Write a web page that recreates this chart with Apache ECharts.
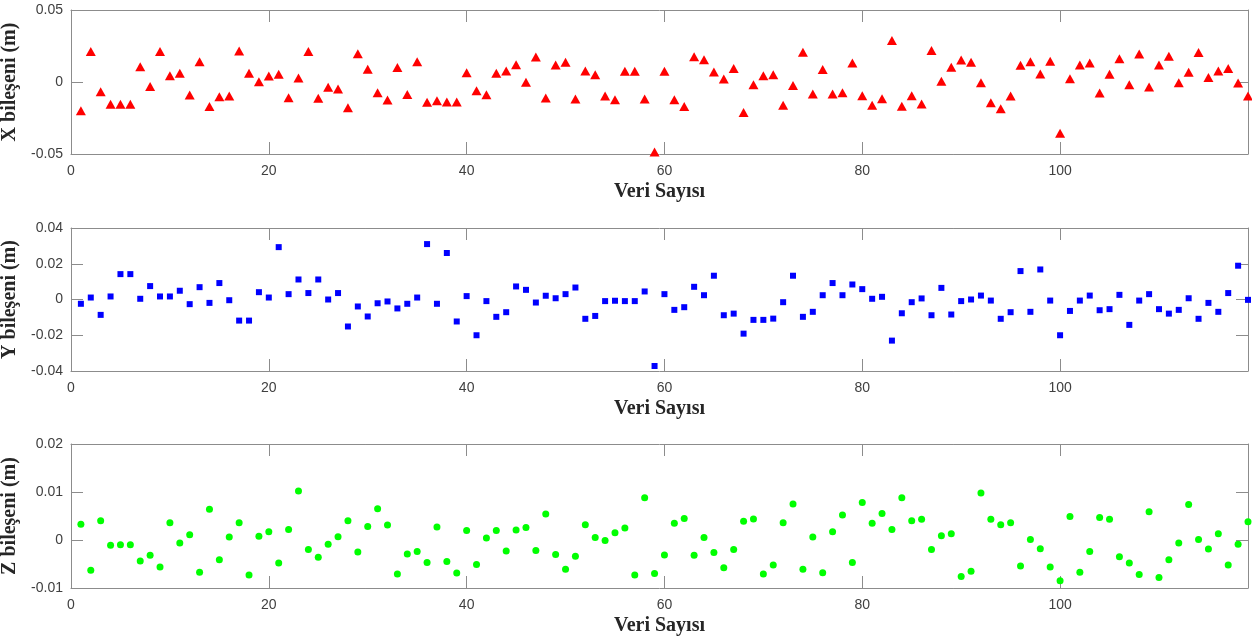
<!DOCTYPE html>
<html>
<head>
<meta charset="utf-8">
<script src="https://cdn.jsdelivr.net/npm/echarts@6/dist/echarts.min.js"></script>
<style>
  html, body { margin: 0; padding: 0; background: #fff; }
  #chart { width: 1252px; height: 643px; }
</style>
</head>
<body>
<div id="chart"></div>
<script>
// ölçüm farkları, 1..119 numaralı veri
const xValues = [
  -0.0199, 0.0211, -0.0067, -0.0155, -0.0155, -0.0155, 0.0106, -0.0032, 0.0211, 0.0044,
  0.0060, -0.0090, 0.0141, -0.0171, -0.0102, -0.0097, 0.0215, 0.0060, 0.0002, 0.0042,
  0.0053, -0.0109, 0.0028, 0.0211, -0.0113, -0.0037, -0.0049, -0.0178, 0.0197, 0.0088,
  -0.0074, -0.0125, 0.0100, -0.0086, 0.0141, -0.0141, -0.0130, -0.0139, -0.0139, 0.0065,
  -0.0060, -0.0088, 0.0060, 0.0076, 0.0120, -0.0002, 0.0174, -0.0111, 0.0118, 0.0137,
  -0.0118, 0.0076, 0.0051, -0.0097, -0.0123, 0.0074, 0.0074, -0.0118, -0.0486, 0.0074,
  -0.0123, -0.0171, 0.0176, 0.0155, 0.0069, 0.0021, 0.0093, -0.0211, -0.0019, 0.0044,
  0.0051, -0.0162, -0.0025, 0.0206, -0.0083, 0.0086, -0.0083, -0.0074, 0.0132, -0.0095,
  -0.0162, -0.0116, 0.0289, -0.0169, -0.0095, -0.0153, 0.0218, 0.0005, 0.0102, 0.0153,
  0.0137, -0.0005, -0.0144, -0.0185, -0.0097, 0.0116, 0.0141, 0.0056, 0.0144, -0.0356,
  0.0023, 0.0118, 0.0132, -0.0076, 0.0053, 0.0162, -0.0019, 0.0194, -0.0035, 0.0118,
  0.0178, -0.0005, 0.0067, 0.0204, 0.0032, 0.0076, 0.0093, -0.0007, -0.0097
];

const yValues = [
  -0.0024, 0.0011, -0.0086, 0.0017, 0.0142, 0.0142, 0.0004, 0.0075, 0.0017, 0.0017,
  0.0049, -0.0026, 0.0069, -0.0019, 0.0092, -0.0004, -0.0118, -0.0118, 0.0041, 0.0011,
  0.0293, 0.0030, 0.0112, 0.0036, 0.0112, 0.0000, 0.0036, -0.0151, -0.0039, -0.0095,
  -0.0021, -0.0011, -0.0050, -0.0024, 0.0011, 0.0310, -0.0024, 0.0260, -0.0123, 0.0019,
  -0.0200, -0.0009, -0.0097, -0.0071, 0.0073, 0.0054, -0.0017, 0.0021, 0.0007, 0.0030,
  0.0067, -0.0108, -0.0092, -0.0009, -0.0007, -0.0009, -0.0009, 0.0045, -0.0372, 0.0030,
  -0.0058, -0.0043, 0.0071, 0.0024, 0.0133, -0.0088, -0.0079, -0.0191, -0.0114, -0.0114,
  -0.0107, -0.0015, 0.0133, -0.0097, -0.0069, 0.0024, 0.0092, 0.0024, 0.0084, 0.0058,
  0.0004, 0.0015, -0.0230, -0.0077, -0.0015, 0.0006, -0.0088, 0.0065, -0.0084, -0.0009,
  0.0000, 0.0022, -0.0006, -0.0108, -0.0071, 0.0159, -0.0069, 0.0168, -0.0006, -0.0200,
  -0.0064, -0.0006, 0.0022, -0.0060, -0.0054, 0.0026, -0.0142, -0.0006, 0.0030, -0.0054,
  -0.0079, -0.0058, 0.0007, -0.0108, -0.0019, -0.0069, 0.0036, 0.0189, -0.0002
];

const zValues = [
  0.0033, -0.0063, 0.0040, -0.0011, -0.0010, -0.0010, -0.0044, -0.0032, -0.0056, 0.0036,
  -0.0006, 0.0011, -0.0067, 0.0064, -0.0041, 0.0006, 0.0036, -0.0073, 0.0008, 0.0017,
  -0.0048, 0.0022, 0.0102, -0.0020, -0.0036, -0.0009, 0.0007, 0.0040, -0.0025, 0.0028,
  0.0065, 0.0031, -0.0071, -0.0029, -0.0024, -0.0047, 0.0027, -0.0045, -0.0069, 0.0020,
  -0.0051, 0.0004, 0.0020, -0.0023, 0.0021, 0.0026, -0.0022, 0.0054, -0.0030, -0.0061,
  -0.0034, 0.0032, 0.0005, -0.0001, 0.0015, 0.0025, -0.0073, 0.0088, -0.0070, -0.0031,
  0.0035, 0.0045, -0.0032, 0.0005, -0.0026, -0.0058, -0.0020, 0.0039, 0.0044, -0.0071,
  -0.0052, 0.0036, 0.0075, -0.0061, 0.0006, -0.0068, 0.0017, 0.0052, -0.0047, 0.0078,
  0.0035, 0.0055, 0.0022, 0.0088, 0.0040, 0.0043, -0.0020, 0.0009, 0.0013, -0.0076,
  -0.0065, 0.0098, 0.0043, 0.0032, 0.0036, -0.0054, 0.0001, -0.0018, -0.0056, -0.0085,
  0.0049, -0.0067, -0.0024, 0.0047, 0.0043, -0.0035, -0.0048, -0.0072, 0.0059, -0.0078,
  -0.0041, -0.0006, 0.0074, 0.0001, -0.0019, 0.0013, -0.0052, -0.0009, 0.0038
];

const yNames = ['X bileşeni (m)', 'Y bileşeni (m)', 'Z bileşeni (m)'];
const xName = 'Veri Sayısı';
const yRanges = [[-0.05, 0.05, 0.05], [-0.04, 0.04, 0.02], [-0.01, 0.02, 0.01]];

const AXIS_COLOR = '#8c8c8c';
const LABEL_COLOR = '#404040';
const TITLE_FONT = { fontFamily: 'Liberation Serif', fontWeight: 'bold', fontSize: 20, color: '#262626' };
const TICK_FONT = { fontFamily: 'Liberation Sans', fontSize: 14, color: LABEL_COLOR };

const grids = [
  { left: 71, right: 4, top: 10, height: 144, outerBoundsMode: 'none' },
  { left: 71, right: 4, top: 228, height: 143, outerBoundsMode: 'none' },
  { left: 71, right: 4, top: 444, height: 144, outerBoundsMode: 'none' }
];

const toPoints = vals => vals.map((v, i) => [i + 1, v]);

const chart = echarts.init(document.getElementById('chart'), null, { renderer: 'canvas' });

const xAxes = [];
const yAxes = [];
grids.forEach((g, k) => {
  const line = { show: true, onZero: false, lineStyle: { color: AXIS_COLOR, width: 1 } };
  const tick = { show: true, inside: true, length: 12, lineStyle: { color: AXIS_COLOR } };
  // alt eksen
  xAxes.push({
    type: 'value', gridIndex: k, position: 'bottom', min: 0, max: 119, interval: 20,
    name: xName, nameLocation: 'middle', nameGap: 28, nameTextStyle: TITLE_FONT,
    axisLine: line, axisTick: tick, splitLine: { show: false },
    axisLabel: Object.assign({ margin: 10, showMaxLabel: false }, TICK_FONT)
  });
  // üst çerçeve
  xAxes.push({
    type: 'value', gridIndex: k, position: 'top', min: 0, max: 119, interval: 20,
    axisLine: line, axisTick: tick, axisLabel: { show: false }, splitLine: { show: false }
  });
  const r = yRanges[k];
  yAxes.push({
    type: 'value', gridIndex: k, position: 'left', min: r[0], max: r[1], interval: r[2],
    name: yNames[k], nameLocation: 'middle', nameGap: 47, nameTextStyle: TITLE_FONT,
    axisLine: line, axisTick: tick, splitLine: { show: false },
    axisLabel: Object.assign({ margin: 8 }, TICK_FONT)
  });
  yAxes.push({
    type: 'value', gridIndex: k, position: 'right', min: r[0], max: r[1], interval: r[2],
    axisLine: line, axisTick: tick, axisLabel: { show: false }, splitLine: { show: false }
  });
});

chart.setOption({
  backgroundColor: '#ffffff',
  animation: false,
  grid: grids,
  xAxis: xAxes,
  yAxis: yAxes,
  series: [
    {
      type: 'scatter', xAxisIndex: 0, yAxisIndex: 0, clip: false,
      symbol: 'triangle', symbolSize: [10, 9],
      itemStyle: { color: '#ff0000', opacity: 1 },
      data: toPoints(xValues)
    },
    {
      type: 'scatter', xAxisIndex: 2, yAxisIndex: 2, clip: false,
      symbol: 'rect', symbolSize: 6,
      itemStyle: { color: '#0000ff', opacity: 1 },
      data: toPoints(yValues)
    },
    {
      type: 'scatter', xAxisIndex: 4, yAxisIndex: 4, clip: false,
      symbol: 'circle', symbolSize: 7,
      itemStyle: { color: '#00ff00', opacity: 1 },
      data: toPoints(zValues)
    }
  ]
});
</script>
</body>
</html>
